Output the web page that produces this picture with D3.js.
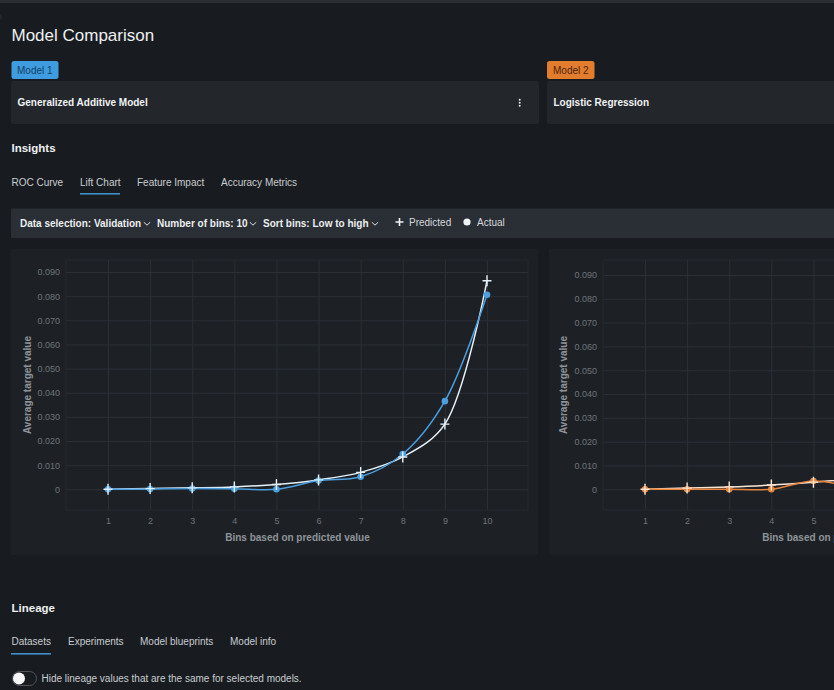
<!DOCTYPE html>
<html>
<head>
<meta charset="utf-8">
<script src="https://cdn.jsdelivr.net/npm/d3@7/dist/d3.min.js"></script>
<style>
html,body{margin:0;padding:0;background:#181c20;overflow:hidden}
svg{display:block}
text{font-family:"Liberation Sans",Arial,sans-serif}
</style>
</head>
<body>
<svg id="c" width="834" height="690"></svg>
<script>
const bins1 = [1,2,3,4,5,6,7,8,9,10];
const predicted1 = [0,0.0003,0.0006,0.001,0.002,0.0039,0.007,0.0134,0.027,0.0864];
const actual1 = [0,0.0001,0.0003,0.0002,0,0.0036,0.0052,0.0146,0.0365,0.0806];
const bins2 = [1,2,3,4,5,6];
const predicted2 = [0,0.0005,0.001,0.0018,0.003,0.0044];
const actual2 = [0,0,0,0,0.0035,0.0005];
const yTicks = [0,0.01,0.02,0.03,0.04,0.05,0.06,0.07,0.08,0.09];
const xTicks1 = [1,2,3,4,5,6,7,8,9,10];
const xTicks2 = [1,2,3,4,5];
const tabs1 = ["ROC Curve","Lift Chart","Feature Impact","Accuracy Metrics"];
const tabs2 = ["Datasets","Experiments","Model blueprints","Model info"];

const svg = d3.select("#c");
const T = (s,x,y,size,fill,weight,anchor)=>svg.append("text").text(s).attr("x",x).attr("y",y)
  .attr("font-size",size).attr("fill",fill).attr("font-weight",weight||400).attr("text-anchor",anchor||"start");
const R = (x,y,w,h,fill,r)=>svg.append("rect").attr("x",x).attr("y",y).attr("width",w).attr("height",h).attr("fill",fill).attr("rx",r||0);

R(0,0,834,3,"#2a2e32");
svg.append("circle").attr("cx",-1).attr("cy",17).attr("r",3).attr("fill","#24282c");
T("Model Comparison",11.5,40.5,17,"#eef0f2");

R(11.5,61,47,18,"#3f9ce0",2.5);
T("Model 1",17,74,10,"#123f63");
R(547,61,47.5,18,"#e27d2d",2.5);
T("Model 2",553,74,10,"#4f2508");
R(11,81,528,43,"#23272c",2);
R(547,81,290,43,"#23272c",2);
T("Generalized Additive Model",17.5,106.2,10,"#f0f2f4",700);
T("Logistic Regression",553.5,106.2,10,"#f0f2f4",700);
[-3,0,3].forEach(d=>svg.append("circle").attr("cx",519.7).attr("cy",102.7+d).attr("r",1).attr("fill","#e8eaec"));

T("Insights",11.5,152,11.5,"#eef0f2",700);
const tabX1=[11.5,80,137,221];
tabs1.forEach((t,i)=>T(t,tabX1[i],185.5,10,"#c9ccd0"));
R(80,193,40,1.6,"#3f8fca");

R(11,208.5,830,29.5,"#2a2e35",1);
const tb=(a,b,x)=>{const t=T(a,x,226.5,10,"#eceef0",700);t.append("tspan").text(" "+b);return t;};
tb("Data selection:","Validation",20);
tb("Number of bins:","10",157);
tb("Sort bins:","Low to high",263);
[147,253,375].forEach(x=>svg.append("path").attr("d",`M${x-3.2} 222.2L${x} 225.2L${x+3.2} 222.2`)
  .attr("fill","none").attr("stroke","#dfe2e5").attr("stroke-width",1));
svg.append("path").attr("d","M395.5 222H403.5M399.5 218V226").attr("stroke","#f0f2f4").attr("stroke-width",1.6);
T("Predicted",409,226,10,"#d6d9dc");
svg.append("circle").attr("cx",467).attr("cy",222).attr("r",3.6).attr("fill","#f4f5f6");
T("Actual",477,226,10,"#d6d9dc");

function chart(o){
  R(o.px,249,o.pw,306,"#1d2126",1);
  const g=svg.append("g");
  const x=d3.scaleLinear().domain([1,10]).range([o.x0,o.x0+379]);
  const y=d3.scaleLinear().domain([0,0.09]).range([489.3,o.y9]);
  const gx=g.append("g").attr("transform","translate(0,510)")
    .call(d3.axisBottom(x).tickValues(o.xTicks).tickFormat(d3.format("d")).tickSize(-250).tickPadding(8));
  const gy=g.append("g").attr("transform",`translate(${o.left},0)`)
    .call(d3.axisLeft(y).tickValues(yTicks).tickFormat(d=>d===0?"0":d3.format(".3f")(d)).tickSize(-o.plotW).tickPadding(6));
  [gx,gy].forEach(a=>{
    a.select(".domain").remove();
    a.selectAll("line").attr("stroke","#2b3037").attr("stroke-width",1);
    a.selectAll("text").attr("font-size",9).attr("fill","#6f747a").style("font-family",'"Liberation Sans",Arial,sans-serif');
  });
  g.append("rect").attr("x",o.left).attr("y",260).attr("width",o.plotW).attr("height",250)
    .attr("fill","none").attr("stroke","#262b31").attr("stroke-width",1);
  const line=d3.line().x(d=>x(d[0])).y(d=>y(d[1])).curve(d3.curveCatmullRom.alpha(0.5));
  const zip=(a,b)=>a.map((v,i)=>[v,b[i]]);
  g.append("path").datum(zip(o.bins,o.pred)).attr("d",line).attr("fill","none").attr("stroke",o.light).attr("stroke-width",1.5);
  g.append("path").datum(zip(o.bins,o.actual)).attr("d",line).attr("fill","none").attr("stroke",o.c).attr("stroke-width",1.5);
  g.selectAll(null).data(zip(o.bins,o.actual)).enter().append("circle")
    .attr("cx",d=>x(d[0])).attr("cy",d=>y(d[1])).attr("r",3.3).attr("fill",o.c);
  g.selectAll(null).data(zip(o.bins,o.pred)).enter().append("path")
    .attr("d",d=>{const a=x(d[0]),b=y(d[1]);return `M${a-4.5} ${b}H${a+4.5}M${a} ${b-5.5}V${b+5.5}`;})
    .attr("fill","none").attr("stroke",o.light).attr("stroke-width",1.4);
  svg.append("text").text("Average target value").attr("transform",`translate(${o.ly},385) rotate(-90)`)
    .attr("text-anchor","middle").attr("font-size",10).attr("font-weight",700).attr("fill","#8f9499");
  T("Bins based on predicted value",o.x0+189.5,541,10,"#8f9499",700,"middle");
}
chart({px:11,pw:527,x0:108,y9:272,left:66,plotW:462,ly:30.5,xTicks:xTicks1,bins:bins1,pred:predicted1,actual:actual1,c:"#4b9fe0",light:"#e6f1fa"});
chart({px:549,pw:290,x0:645,y9:275,left:603,plotW:240,ly:567,xTicks:xTicks2,bins:bins2,pred:predicted2,actual:actual2,c:"#e9833a",light:"#fbe6d6"});

T("Lineage",11.5,612,11.5,"#eef0f2",700);
const tabX2=[11.5,68,140,230];
tabs2.forEach((t,i)=>T(t,tabX2[i],645,10,"#c9ccd0"));
R(11,653,40,1.6,"#3f8fca");
R(12.5,671.5,24,14,"none",7).attr("stroke","#50555b").attr("stroke-width",1);
svg.append("circle").attr("cx",19).attr("cy",678.5).attr("r",6).attr("fill","#f6f7f8");
T("Hide lineage values that are the same for selected models.",41.5,682,10,"#c9ccd0");
</script>
</body>
</html>
